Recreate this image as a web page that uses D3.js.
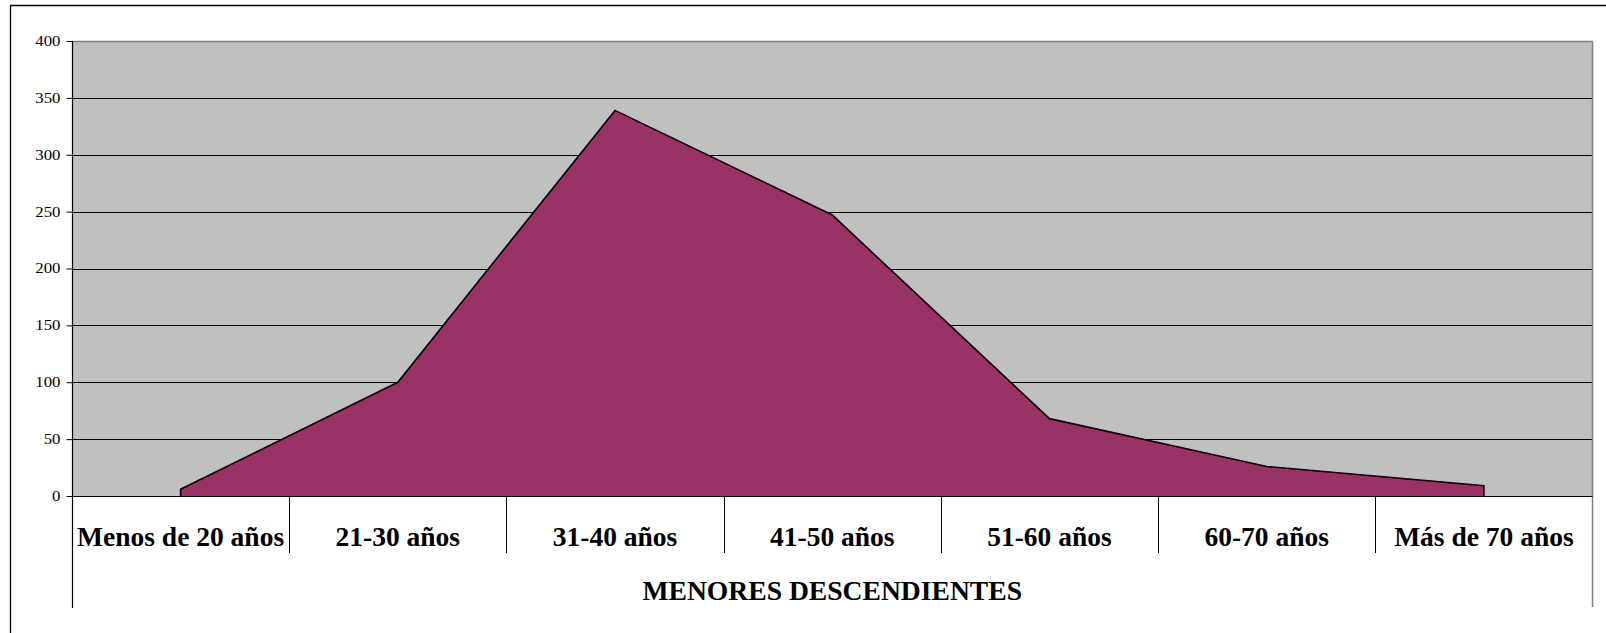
<!DOCTYPE html>
<html>
<head>
<meta charset="utf-8">
<script src="https://cdn.jsdelivr.net/npm/d3@7"></script>
<style>
html,body{margin:0;padding:0;background:#fff;}
svg{display:block;}
text{font-family:"Liberation Serif","Times New Roman",serif;}
</style>
</head>
<body>
<svg id="chart" width="1606" height="633"></svg>
<script>
const categories = ["Menos de 20 años","21-30 años","31-40 años","41-50 años","51-60 años","60-70 años","Más de 70 años"];
const values = [6, 100, 339, 247, 68, 26, 9];
const yTicks = [0, 50, 100, 150, 200, 250, 300, 350, 400];
const axisTitle = "MENORES DESCENDIENTES";

(function(){
const svg = d3.select("#chart");
const pLeft = 72, pRight = 1592.5, pTop = 41, pBottom = 496;

const x = d3.scaleBand().domain(categories).range([pLeft, pRight]).padding(0);
const y = d3.scaleLinear().domain([0, 400]).range([pBottom, pTop]);

// outer border
svg.append("path").attr("d", `M10.5,633 L10.5,5.5 L1606,5.5`).attr("fill","none").attr("stroke","#000").attr("stroke-width",1.3);

// plot background
svg.append("rect").attr("x", pLeft).attr("y", pTop).attr("width", pRight-pLeft).attr("height", pBottom-pTop).attr("fill", "#c0c0c0");

// gridlines
svg.append("g").selectAll("line").data(yTicks.filter(d => d > 0 && d < 400)).join("line")
  .attr("x1", pLeft).attr("x2", pRight)
  .attr("y1", d => Math.round(y(d)) + 0.5).attr("y2", d => Math.round(y(d)) + 0.5)
  .attr("stroke", "#000").attr("stroke-width", 1);

// plot border top/right (gray)
svg.append("path").attr("d", `M${pLeft},${pTop+0.5} L${pRight},${pTop+0.5} L${pRight},${pBottom}`)
  .attr("fill","none").attr("stroke","#808080").attr("stroke-width",1.5);

// area
const pts = categories.map((c,i) => ({x: x(c) + x.bandwidth()/2, v: values[i]}));
const area = d3.area().x(d => d.x).y0(y(0)).y1(d => y(d.v));
svg.append("path").datum(pts).attr("d", area).attr("fill", "#993366");
const outlinePts = [{x: pts[0].x, v: 0}, ...pts, {x: pts[pts.length-1].x, v: 0}];
const outline = d3.line().x(d => d.x).y(d => y(d.v));
svg.append("path").datum(outlinePts).attr("d", outline)
  .attr("fill","none").attr("stroke","#000").attr("stroke-width",1.6).attr("stroke-linejoin","miter");

// y axis
const yAxis = d3.axisLeft(y).tickValues(yTicks).tickSize(6).tickPadding(6);
const gy = svg.append("g").attr("transform", `translate(${pLeft+0.5},0)`).call(yAxis);
gy.select(".domain").remove();
gy.selectAll(".tick line").attr("stroke","#000");
gy.selectAll(".tick text").attr("font-size", 14).attr("fill","#000")
  .attr("font-family", '"Liberation Serif","Times New Roman",serif')
  .attr("x", -12/1.2).attr("transform", "scale(1.2,1)");

// left axis line extended to bottom of category box
svg.append("line").attr("x1", pLeft+0.5).attr("x2", pLeft+0.5).attr("y1", pTop).attr("y2", 608).attr("stroke","#000").attr("stroke-width",1.2);
// right box line
svg.append("line").attr("x1", pRight).attr("x2", pRight).attr("y1", pBottom).attr("y2", 607).attr("stroke","#808080").attr("stroke-width",1.5);

// x baseline
svg.append("line").attr("x1", pLeft).attr("x2", pRight).attr("y1", pBottom+0.5).attr("y2", pBottom+0.5).attr("stroke","#000").attr("stroke-width",1.2);

// category dividers
svg.append("g").selectAll("line").data(categories.slice(1)).join("line")
  .attr("x1", d => Math.round(x(d)) + 0.5).attr("x2", d => Math.round(x(d)) + 0.5)
  .attr("y1", pBottom).attr("y2", 553).attr("stroke","#000").attr("stroke-width",1);

// category labels
svg.append("g").selectAll("text").data(categories).join("text")
  .attr("x", d => x(d) + x.bandwidth()/2).attr("y", 546)
  .attr("text-anchor","middle").attr("font-size", 27.5).attr("font-weight","bold").attr("fill","#000")
  .text(d => d);

// axis title
svg.append("text").attr("x", (pLeft+pRight)/2).attr("y", 600)
  .attr("text-anchor","middle").attr("font-size", 27.6).attr("font-weight","bold").attr("fill","#000")
  .text(axisTitle);
})();
</script>
</body>
</html>
